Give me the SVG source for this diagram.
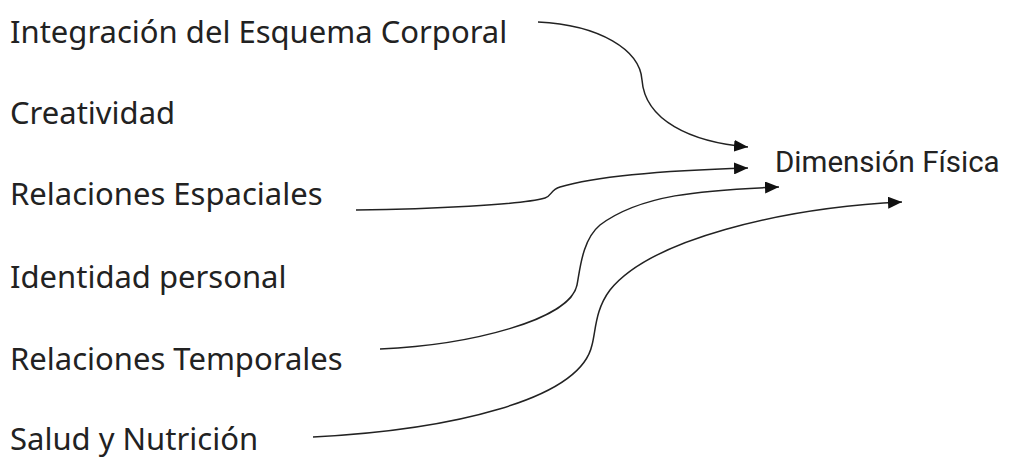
<svg xmlns="http://www.w3.org/2000/svg" width="1028" height="458" viewBox="0 0 1028 458">
<style>
.lbl{font-family:"Noto Sans","Liberation Sans",sans-serif;font-size:31px;fill:#222}
.tgt{font-family:Roboto,"Liberation Sans",sans-serif;font-size:29.5px;fill:#222}
.c{fill:none;stroke:#222;stroke-width:1.5}
</style>
<defs>
<marker id="ah" markerUnits="userSpaceOnUse" markerWidth="16" markerHeight="12" refX="14" refY="6" orient="auto">
<path d="M0,0 L14,6 L0,12 Z" fill="#111"/>
</marker>
</defs>
<rect width="1028" height="458" fill="#fff"/>
<g id="n1"><text class="lbl" x="10" y="43">Integración del Esquema Corporal</text></g>
<g id="n2"><text class="lbl" x="10" y="124">Creatividad</text></g>
<g id="n3"><text class="lbl" x="10" y="205">Relaciones Espaciales</text></g>
<g id="n4"><text class="lbl" x="10" y="288">Identidad personal</text></g>
<g id="n5"><text class="lbl" x="10" y="370">Relaciones Temporales</text></g>
<g id="n6"><text class="lbl" x="10" y="450">Salud y Nutrición</text></g>
<g id="target"><text class="tgt" x="775" y="172">Dimensión Física</text></g>
<g id="connectors">
<path class="c" marker-end="url(#ah)" d="M538,22 C600,25 640,50 642,80 C645,120 690,142 748,147"/>
<path class="c" marker-end="url(#ah)" d="M356,210 C430,209 520,205 545,198 C552,196 550,190 560,187 C600,175 680,170 748,168"/>
<path class="c" marker-end="url(#ah)" d="M380,349 C470,345 570,320 577,285 C580,270 582,240 600,225 C640,195 700,190 779,187"/>
<path class="c" marker-end="url(#ah)" d="M313,437 C450,430 580,400 592,345 C596,330 595,310 610,290 C650,240 780,208 902,202"/>
</g>
</svg>
